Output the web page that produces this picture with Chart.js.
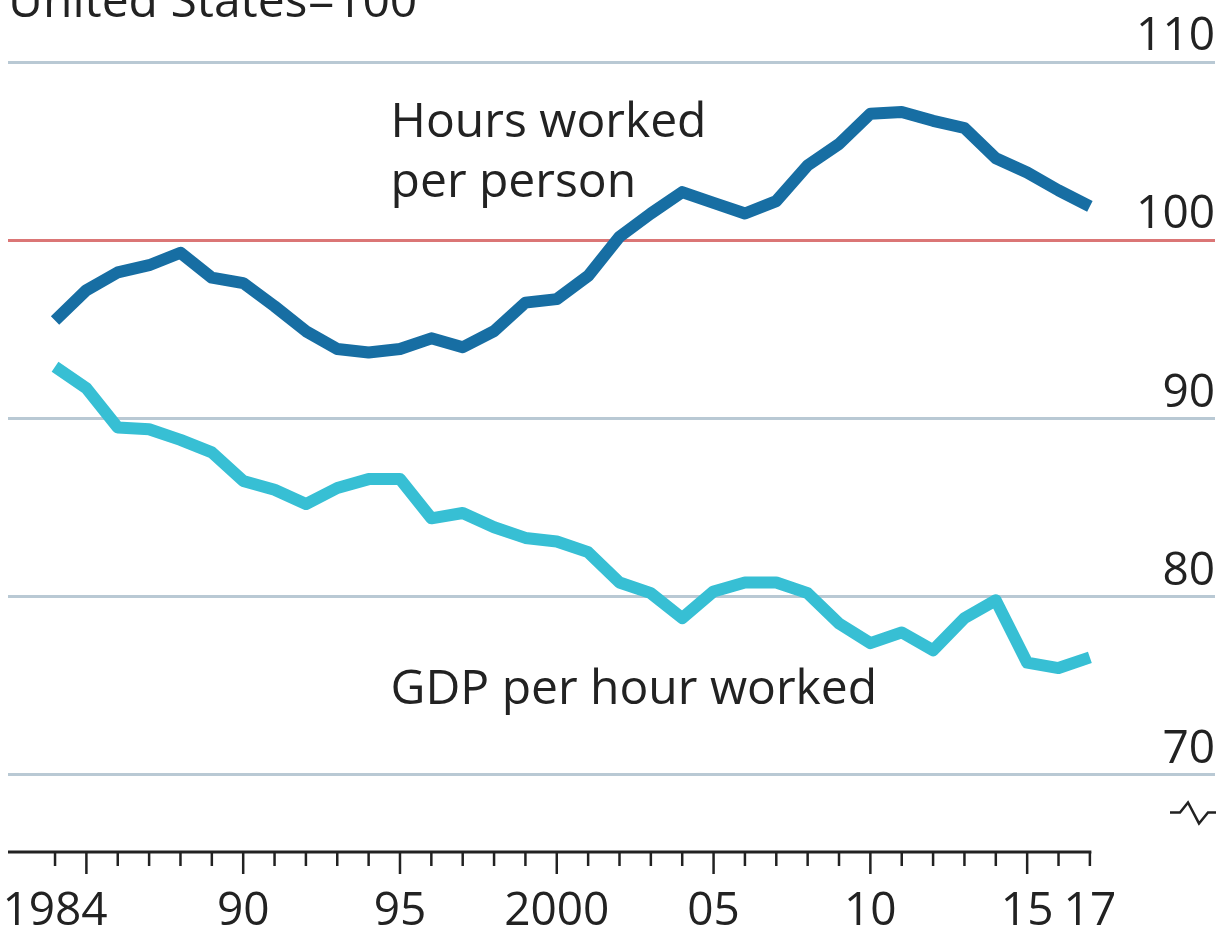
<!DOCTYPE html>
<html>
<head>
<meta charset="utf-8">
<script src="https://cdn.jsdelivr.net/npm/chart.js@4.4.1/dist/chart.umd.min.js"></script>
<style>
  html, body { margin: 0; padding: 0; background: #fff; }
  #wrap { width: 1219px; height: 931px; }
</style>
</head>
<body>
<div id="wrap"><canvas id="chart" width="1219" height="931"></canvas></div>
<script>
// data (United States = 100)
const years = [1984, 1985, 1986, 1987, 1988, 1989, 1990, 1991, 1992, 1993, 1994,
  1995, 1996, 1997, 1998, 1999, 2000, 2001, 2002, 2003, 2004, 2005, 2006, 2007,
  2008, 2009, 2010, 2011, 2012, 2013, 2014, 2015, 2016, 2017];
const hoursWorked = [95.5, 97.2, 98.2, 98.6, 99.3, 97.9, 97.6, 96.3, 94.9, 93.9, 93.7,
  93.9, 94.5, 94.0, 94.9, 96.5, 96.7, 98.0, 100.2, 101.5, 102.7, 102.1, 101.5, 102.2,
  104.2, 105.4, 107.1, 107.2, 106.7, 106.3, 104.6, 103.8, 102.8, 101.9];
const gdpPerHour = [92.9, 91.7, 89.5, 89.4, 88.8, 88.1, 86.5, 86.0, 85.2, 86.1, 86.6,
  86.6, 84.4, 84.7, 83.9, 83.3, 83.1, 82.5, 80.8, 80.2, 78.8, 80.3, 80.8, 80.8,
  80.2, 78.5, 77.4, 78.0, 77.0, 78.8, 79.8, 76.3, 76.0, 76.6];
const yTicks = [70, 80, 90, 100, 110];
const xLabelYears = [1984, 1990, 1995, 2000, 2005, 2010, 2015, 2017];
const xLabelText = ['1984', '90', '95', '2000', '05', '10', '15', '17'];
const hoursName = ['Hours worked', 'per person'];
const gdpName = ['GDP per hour worked'];
const unitNote = 'United States=100';

const FONT = '"Open Sans", "DejaVu Sans", sans-serif';
const TEXT = '#222222';

// axis line, year ticks, notes and the axis-break mark
const decorations = {
  id: 'decorations',
  afterDraw(chart) {
    const { ctx, chartArea, scales } = chart;
    const xs = scales.x, ys = scales.y;
    const base = chartArea.bottom;
    ctx.save();

    // x axis line + ticks (long ones every five years)
    ctx.strokeStyle = '#222';
    ctx.lineWidth = 3;
    ctx.beginPath();
    ctx.moveTo(chartArea.left, base);
    ctx.lineTo(xs.getPixelForValue(years[years.length - 1]) + 1.5, base);
    ctx.stroke();
    ctx.lineWidth = 2.5;
    years.forEach(yr => {
      const px = xs.getPixelForValue(yr);
      ctx.beginPath();
      ctx.moveTo(px, base);
      ctx.lineTo(px, base + (yr % 5 === 0 ? 22 : 14));
      ctx.stroke();
    });

    // axis break mark under the 70 line
    const bx = chartArea.right, by = ys.getPixelForValue(67.9);
    ctx.lineWidth = 2.5;
    ctx.lineJoin = 'miter';
    ctx.beginPath();
    ctx.moveTo(bx - 45, by);
    ctx.lineTo(bx - 35, by);
    ctx.lineTo(bx - 27, by - 10);
    ctx.lineTo(bx - 16, by + 11);
    ctx.lineTo(bx - 7, by);
    ctx.lineTo(bx + 1, by);
    ctx.stroke();

    // texts
    ctx.fillStyle = TEXT;
    ctx.textAlign = 'left';
    ctx.textBaseline = 'alphabetic';
    ctx.font = '48px ' + FONT;
    ctx.fillText(unitNote, 8, 17);

    const lx = xs.getPixelForValue(1994.7);
    ctx.fillText(hoursName[0], lx, ys.getPixelForValue(105.8));
    ctx.fillText(hoursName[1], lx, ys.getPixelForValue(102.4));
    ctx.fillText(gdpName[0], lx, ys.getPixelForValue(74.0));
    ctx.restore();
  }
};

// stop the scales from asking for extra room around the plot
function noPadding(scale) {
  scale.paddingTop = 0;
  scale.paddingBottom = 0;
  scale.paddingLeft = 0;
  scale.paddingRight = 0;
}

new Chart(document.getElementById('chart'), {
  type: 'line',
  data: {
    datasets: [
      {
        label: hoursName.join(' '),
        data: years.map((yr, i) => ({ x: yr, y: hoursWorked[i] })),
        borderColor: '#176ea3',
        borderWidth: 12,
        borderJoinStyle: 'round',
        pointRadius: 0,
        tension: 0
      },
      {
        label: gdpName[0],
        data: years.map((yr, i) => ({ x: yr, y: gdpPerHour[i] })),
        borderColor: '#37bfd4',
        borderWidth: 12,
        borderJoinStyle: 'round',
        pointRadius: 0,
        tension: 0
      }
    ]
  },
  options: {
    responsive: false,
    animation: false,
    devicePixelRatio: 1,
    layout: { autoPadding: false, padding: { left: 8, right: 4, top: 0, bottom: 0 } },
    plugins: {
      legend: { display: false },
      tooltip: { enabled: false },
      title: { display: false }
    },
    scales: {
      x: {
        type: 'linear',
        min: 1982.5,
        max: 2020.99,
        border: { display: false },
        grid: { display: false, drawTicks: false },
        afterBuildTicks: scale => {
          scale.ticks = xLabelYears.map(v => ({ value: v }));
        },
        afterFit: scale => {
          noPadding(scale);
          scale.height = 79;
        },
        ticks: {
          autoSkip: false,
          maxRotation: 0,
          minRotation: 0,
          padding: 37,
          color: TEXT,
          font: { family: FONT, size: 46, lineHeight: 1 },
          callback: value => xLabelText[xLabelYears.indexOf(value)]
        }
      },
      y: {
        position: 'right',
        min: 65.68,
        max: 113.48,
        border: { display: false },
        grid: {
          drawTicks: false,
          lineWidth: 3,
          color: c => (c.tick && c.tick.value === 100) ? '#db7676' : '#b9c9d4'
        },
        afterBuildTicks: scale => {
          scale.ticks = yTicks.map(v => ({ value: v }));
        },
        afterFit: scale => {
          noPadding(scale);
          scale.width = 0;
        },
        ticks: {
          mirror: true,
          padding: 0,
          labelOffset: -25,
          color: TEXT,
          font: { family: FONT, size: 46 }
        }
      }
    }
  },
  plugins: [decorations]
});
</script>
</body>
</html>
